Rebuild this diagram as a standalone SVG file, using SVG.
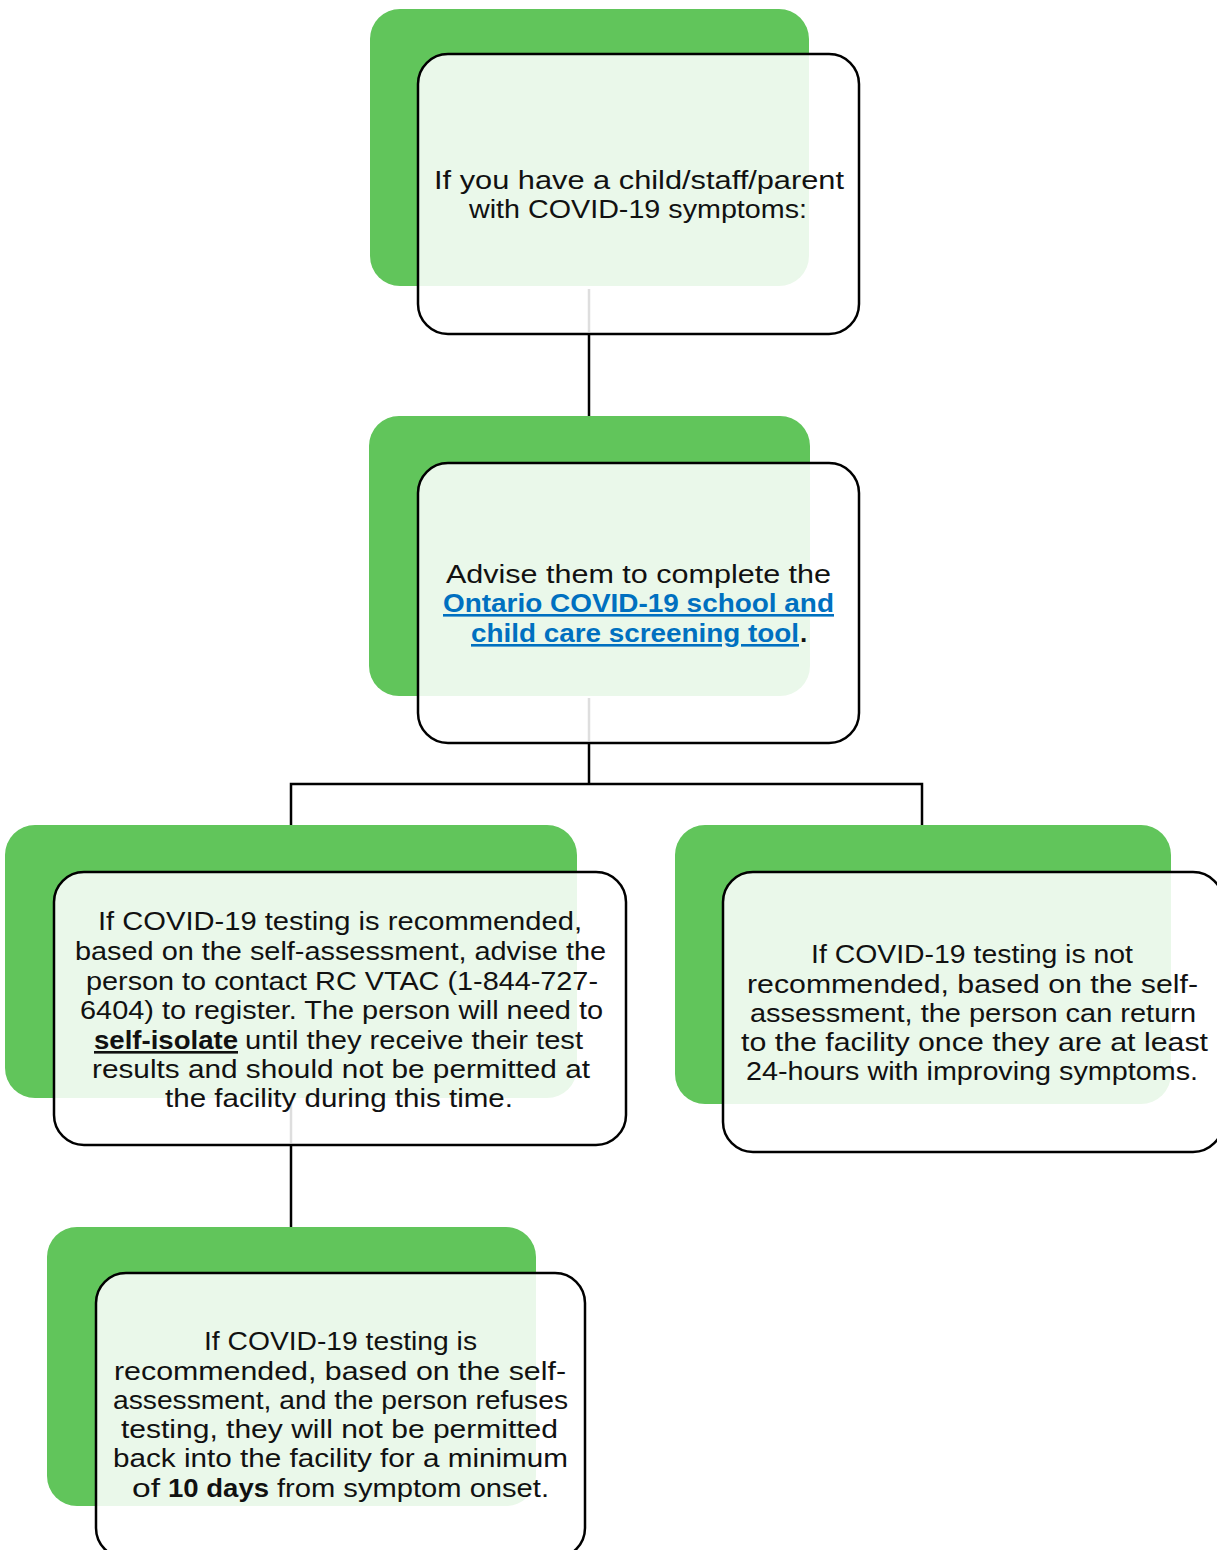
<svg xmlns="http://www.w3.org/2000/svg" width="1217" height="1550" viewBox="0 0 1217 1550">
<style>
.bg{fill:#61C55B}
.fr{fill:#ffffff;fill-opacity:0.87;stroke:#000;stroke-width:2.5}
.t{font-family:"Liberation Sans",Arial,sans-serif;font-size:26px;fill:#111}
.b{font-weight:bold}
.lk{fill:#0070C0;font-weight:bold;text-decoration:underline}
.u{text-decoration:underline}
.c{stroke:#000;stroke-width:2.5;fill:none}
.cg{stroke:#dedede;stroke-width:2.5;fill:none}
</style>
<rect width="1217" height="1550" fill="#fff"/>
<g id="connectors">
<line class="c" x1="589" y1="334" x2="589" y2="417"/>
<line class="c" x1="589" y1="743" x2="589" y2="784"/>
<polyline class="c" points="291,825 291,784 922,784 922,825"/>
<line class="c" x1="291" y1="1145" x2="291" y2="1227"/>
</g>
<g id="node1">
<rect class="bg" x="370" y="9" width="439" height="277" rx="30"/>
<rect class="fr" x="418" y="54" width="441" height="280" rx="30"/>
<line class="cg" x1="589" y1="289" x2="589" y2="332"/>
<text class="t" x="434" y="189" textLength="410" lengthAdjust="spacingAndGlyphs">If you have a child/staff/parent</text>
<text class="t" x="469" y="218" textLength="338" lengthAdjust="spacingAndGlyphs">with COVID-19 symptoms:</text>
</g>
<g id="node2">
<rect class="bg" x="369" y="416" width="441" height="280" rx="30"/>
<rect class="fr" x="418" y="463" width="441" height="280" rx="30"/>
<line class="cg" x1="589" y1="698" x2="589" y2="741"/>
<text class="t" x="446" y="583" textLength="385" lengthAdjust="spacingAndGlyphs">Advise them to complete the</text>
<text class="t lk" x="443" y="612" textLength="391" lengthAdjust="spacingAndGlyphs">Ontario COVID-19 school and</text>
<text class="t lk" x="471" y="642" textLength="328" lengthAdjust="spacingAndGlyphs">child care screening tool</text>
<text class="t b" x="800" y="642">.</text>
</g>
<g id="node3">
<rect class="bg" x="5" y="825" width="572" height="273" rx="30"/>
<rect class="fr" x="54" y="872" width="572" height="273" rx="30"/>
<line class="cg" x1="291" y1="1100" x2="291" y2="1143"/>
<text class="t" x="98" y="930" textLength="484" lengthAdjust="spacingAndGlyphs">If COVID-19 testing is recommended,</text>
<text class="t" x="75" y="960" textLength="531" lengthAdjust="spacingAndGlyphs">based on the self-assessment, advise the</text>
<text class="t" x="86" y="990" textLength="512" lengthAdjust="spacingAndGlyphs">person to contact RC VTAC (1-844-727-</text>
<text class="t" x="80" y="1019" textLength="523" lengthAdjust="spacingAndGlyphs">6404) to register. The person will need to</text>
<text class="t b u" x="94" y="1049" textLength="144" lengthAdjust="spacingAndGlyphs">self-isolate</text>
<text class="t" x="245" y="1049" textLength="338" lengthAdjust="spacingAndGlyphs">until they receive their test</text>
<text class="t" x="92" y="1078" textLength="498" lengthAdjust="spacingAndGlyphs">results and should not be permitted at</text>
<text class="t" x="165" y="1107" textLength="348" lengthAdjust="spacingAndGlyphs">the facility during this time.</text>
</g>
<g id="node4">
<rect class="bg" x="675" y="825" width="496" height="279" rx="30"/>
<rect class="fr" x="723" y="872" width="500" height="280" rx="30"/>
<text class="t" x="811" y="963" textLength="322" lengthAdjust="spacingAndGlyphs">If COVID-19 testing is not</text>
<text class="t" x="747" y="993" textLength="451" lengthAdjust="spacingAndGlyphs">recommended, based on the self-</text>
<text class="t" x="750" y="1022" textLength="446" lengthAdjust="spacingAndGlyphs">assessment, the person can return</text>
<text class="t" x="741" y="1051" textLength="467" lengthAdjust="spacingAndGlyphs">to the facility once they are at least</text>
<text class="t" x="746" y="1080" textLength="452" lengthAdjust="spacingAndGlyphs">24-hours with improving symptoms.</text>
</g>
<g id="node5">
<rect class="bg" x="47" y="1227" width="489" height="279" rx="30"/>
<rect class="fr" x="96" y="1273" width="489" height="285" rx="30"/>
<text class="t" x="204" y="1350" textLength="273" lengthAdjust="spacingAndGlyphs">If COVID-19 testing is</text>
<text class="t" x="114" y="1380" textLength="452" lengthAdjust="spacingAndGlyphs">recommended, based on the self-</text>
<text class="t" x="113" y="1409" textLength="455" lengthAdjust="spacingAndGlyphs">assessment, and the person refuses</text>
<text class="t" x="121" y="1438" textLength="437" lengthAdjust="spacingAndGlyphs">testing, they will not be permitted</text>
<text class="t" x="113" y="1467" textLength="455" lengthAdjust="spacingAndGlyphs">back into the facility for a minimum</text>
<text class="t" x="132" y="1497" textLength="28" lengthAdjust="spacingAndGlyphs">of</text>
<text class="t b" x="168" y="1497" textLength="101" lengthAdjust="spacingAndGlyphs">10 days</text>
<text class="t" x="277" y="1497" textLength="272" lengthAdjust="spacingAndGlyphs">from symptom onset.</text>
</g>
</svg>
